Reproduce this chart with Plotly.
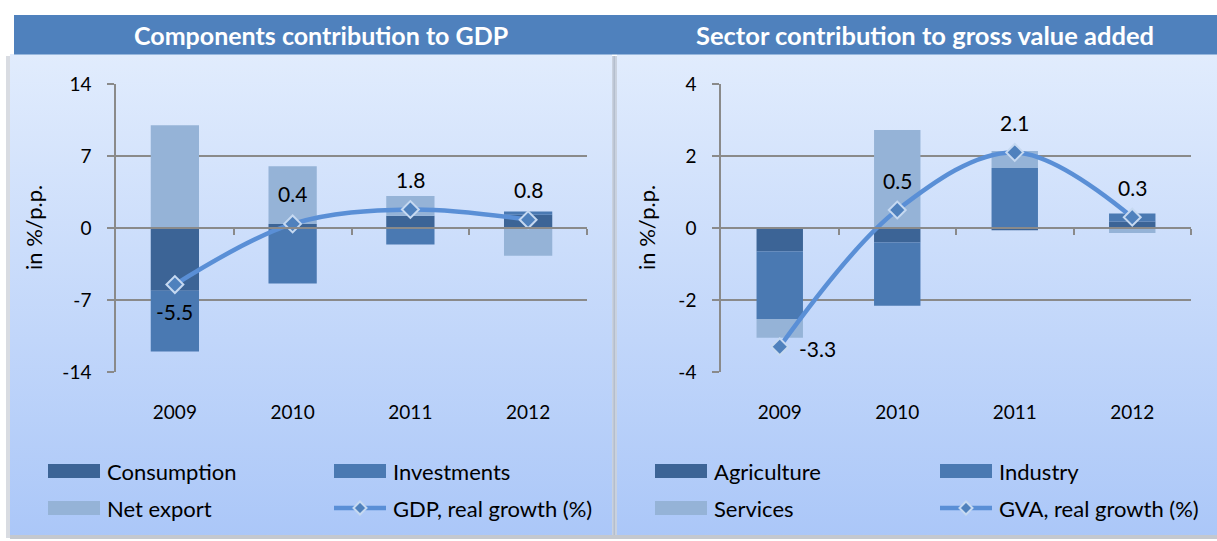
import base64
import plotly.graph_objects as go

W, H = 1217, 541

# ---------------- data ----------------
years = ["2009", "2010", "2011", "2012"]

consumption = [-6.1, 0.4, 1.2, 1.3]
investments = [-5.9, -5.4, -1.6, 0.3]
net_export = [10.0, 5.6, 1.9, -2.7]
gdp_growth = [-5.5, 0.4, 1.8, 0.8]

agriculture = [-0.65, -0.4, -0.06, 0.18]
industry = [-1.88, -1.76, 1.67, 0.22]
services = [-0.52, 2.72, 0.47, -0.14]
gva_growth = [-3.3, 0.5, 2.1, 0.3]

left_yticks = [-14, -7, 0, 7, 14]
right_yticks = [-4, -2, 0, 2, 4]

titles = ["Components contribution to GDP", "Sector contribution to gross value added"]
left_names = ["Consumption", "Investments", "Net export", "GDP, real growth (%)"]
right_names = ["Agriculture", "Industry", "Services", "GVA, real growth (%)"]
y_title = "in %/p.p."

# ---------------- style ----------------
C_DARK = "#3C6496"
C_MID = "#4A79B2"
C_LIGHT = "#95B3D7"
C_LINE = "#5A8FD6"
C_MARK = "#4F81BD"
C_MARK_EDGE = "#C6D9F1"
GRID = "#8A8A8A"
FONT = "Lato"
TXT = "#000000"


def px(x):
    return x / W


def py(y):
    return 1 - y / H


PLOT_TOP, PLOT_BOT = 84, 372
YDOM = [py(PLOT_BOT), py(PLOT_TOP)]
YMID = (YDOM[0] + YDOM[1]) / 2

fig = go.Figure()


def add_chart(xa, ya, xo, series, colors, growth, names, bar_w):
    for vals, col, name in zip(series, colors, names[:3]):
        fig.add_trace(go.Bar(
            x=years, y=vals, name=name, width=bar_w,
            marker=dict(color=col, line=dict(width=0)),
            xaxis=xa, yaxis=ya, showlegend=False))
    fig.add_trace(go.Scatter(
        x=years, y=growth, name=names[3], mode="lines+markers",
        line=dict(color=C_LINE, width=4.5, shape="spline", smoothing=1),
        marker=dict(symbol="diamond", size=13, color=C_MARK,
                    line=dict(color=C_MARK_EDGE, width=2)),
        xaxis=xa, yaxis=ya, showlegend=False))
    # helper trace so the zero-line category axis is drawn
    fig.add_trace(go.Scatter(x=[], y=[], xaxis=xo, yaxis=ya,
                             showlegend=False, hoverinfo="skip"))


add_chart("x", "y", "x3", [consumption, investments, net_export],
          [C_DARK, C_MID, C_LIGHT], gdp_growth, left_names, 0.41)
add_chart("x2", "y2", "x4", [agriculture, industry, services],
          [C_DARK, C_MID, C_LIGHT], gva_growth, right_names, 0.395)


def xaxis_main(x0, x1, anchor):
    return dict(domain=[px(x0), px(x1)], type="category", range=[-0.5, 3.5],
                anchor=anchor, showline=False, showgrid=False, zeroline=False,
                ticks="", tickfont=dict(family=FONT, size=19, color=TXT),
                ticklabelstandoff=27, fixedrange=True, automargin=False)


def xaxis_zero(over):
    return dict(overlaying=over, anchor="free", position=YMID, range=[-0.5, 3.5],
                tickvals=[0.5, 1.5, 2.5, 3.5], ticks="outside", ticklen=6,
                tickwidth=1.5, tickcolor=GRID, showline=True, linecolor=GRID,
                linewidth=1.5, showticklabels=False, showgrid=False,
                zeroline=False, fixedrange=True, automargin=False)


def yaxis(rng, vals, anchor):
    return dict(domain=YDOM, range=rng, tickvals=vals, ticktext=[str(v) for v in vals],
                anchor=anchor,
                showgrid=True, gridcolor=GRID, gridwidth=1.5,
                showline=True, linecolor=GRID, linewidth=1.5,
                ticks="outside", ticklen=7, tickwidth=1.5, tickcolor=GRID,
                tickfont=dict(family=FONT, size=19, color=TXT),
                ticklabelstandoff=12, zeroline=False, fixedrange=True, automargin=False)


fig.update_layout(
    template="none",
    width=W, height=H, margin=dict(l=0, r=0, t=0, b=0, pad=0, autoexpand=False),
    paper_bgcolor="white", plot_bgcolor="white",
    barmode="relative", showlegend=False,
    font=dict(family=FONT, color=TXT),
    xaxis=xaxis_main(116, 587, "y"),
    xaxis2=xaxis_main(721, 1191, "y2"),
    xaxis3=xaxis_zero("x"),
    xaxis4=xaxis_zero("x2"),
    yaxis=yaxis([-14, 14], left_yticks, "x"),
    yaxis2=yaxis([-4, 4], right_yticks, "x2"),
)

# ---------------- panel backgrounds (gradient) ----------------
svg = ('<svg xmlns="http://www.w3.org/2000/svg" width="100" height="100" '
       'viewBox="0 0 100 100" preserveAspectRatio="none"><defs>'
       '<linearGradient id="g" x1="0" y1="0" x2="0" y2="1">'
       '<stop offset="0" stop-color="#E1ECFD"/><stop offset="1" stop-color="#ABC7F8"/>'
       '</linearGradient></defs><rect width="100" height="100" fill="url(#g)"/></svg>')
src = "data:image/svg+xml;base64," + base64.b64encode(svg.encode()).decode()
images = []
for x0, x1 in [(10, 612), (617, 1217)]:
    images.append(dict(source=src, xref="paper", yref="paper", x=px(x0), y=py(54),
                       sizex=px(x1) - px(x0), sizey=(536 - 54) / H,
                       xanchor="left", yanchor="top", sizing="stretch", layer="below"))
fig.update_layout(images=images)

shapes = []


def rect(x0, y0, x1, y1, color, layer="below"):
    shapes.append(dict(type="rect", xref="paper", yref="paper",
                       x0=px(x0), x1=px(x1), y0=py(y1), y1=py(y0),
                       fillcolor=color, line=dict(width=0), layer=layer))


# title bar
rect(14, 15, 1217, 54.5, "#4F81BD")
# shadows / divider
rect(6, 56, 10, 538, "#D9DCE2")
rect(612, 56, 617, 538, "#C9D1DE")
rect(613.5, 56, 615, 538, "#B4BECD")
rect(10, 535, 1217, 539, "#C4C8CF")

annotations = []

# titles
for t, cx, fs in zip(titles, [321, 925], [25, 25.5]):
    annotations.append(dict(text=f"<b>{t}</b>", x=px(cx), y=py(35), xref="paper", yref="paper",
                            showarrow=False, xanchor="center", yanchor="middle",
                            font=dict(family=FONT, size=fs, color="white")))

# y-axis titles
for cx in [33, 646]:
    annotations.append(dict(text=y_title, x=px(cx), y=py(228), xref="paper", yref="paper",
                            showarrow=False, textangle=-90, xanchor="center", yanchor="middle",
                            font=dict(family=FONT, size=22, color=TXT)))

# data labels (x given as category index)
for i, v in enumerate(gdp_growth):
    annotations.append(dict(text=f"{v:.1f}", x=i, y=v, xref="x", yref="y",
                            showarrow=False, yshift=(-27 if v < 0 else 30),
                            font=dict(family=FONT, size=21, color=TXT)))
for i, v in enumerate(gva_growth):
    neg = v < 0
    annotations.append(dict(text=f"{v:.1f}", x=i, y=v, xref="x2", yref="y2",
                            showarrow=False, yshift=(-2 if neg else 30),
                            xshift=(38 if neg else 0),
                            font=dict(family=FONT, size=21, color=TXT)))

# manual legends
ROWS = [471, 508]


def legend(col_x, names, colors):
    places = [(0, 0), (1, 0), (0, 1)]
    for (c, r), name, col in zip(places, names[:3], colors):
        sx = col_x[c]
        rect(sx, ROWS[r] - 7, sx + 52, ROWS[r] + 7, col, layer="above")
        annotations.append(dict(text=name, x=px(sx + 57), y=py(ROWS[r]), xref="paper",
                                yref="paper", showarrow=False, xanchor="left",
                                yanchor="middle", font=dict(family=FONT, size=22, color=TXT)))
    sx = col_x[1]
    yy = ROWS[1]
    shapes.append(dict(type="line", xref="paper", yref="paper", x0=px(sx), x1=px(sx + 52),
                       y0=py(yy), y1=py(yy), line=dict(color=C_LINE, width=4.5), layer="above"))
    d = 6.5
    cx = sx + 26
    path = (f"M {px(cx)} {py(yy - d)} L {px(cx + d)} {py(yy)} "
            f"L {px(cx)} {py(yy + d)} L {px(cx - d)} {py(yy)} Z")
    shapes.append(dict(type="path", xref="paper", yref="paper", path=path,
                       fillcolor=C_MARK, line=dict(color=C_MARK_EDGE, width=2), layer="above"))
    annotations.append(dict(text=names[3], x=px(sx + 57), y=py(yy), xref="paper",
                            yref="paper", showarrow=False, xanchor="left",
                            yanchor="middle", font=dict(family=FONT, size=22, color=TXT)))


legend([48, 334], left_names, [C_DARK, C_MID, C_LIGHT])
legend([655, 940], right_names, [C_DARK, C_MID, C_LIGHT])

fig.update_layout(shapes=shapes, annotations=annotations)
fig.write_html("out.html")
